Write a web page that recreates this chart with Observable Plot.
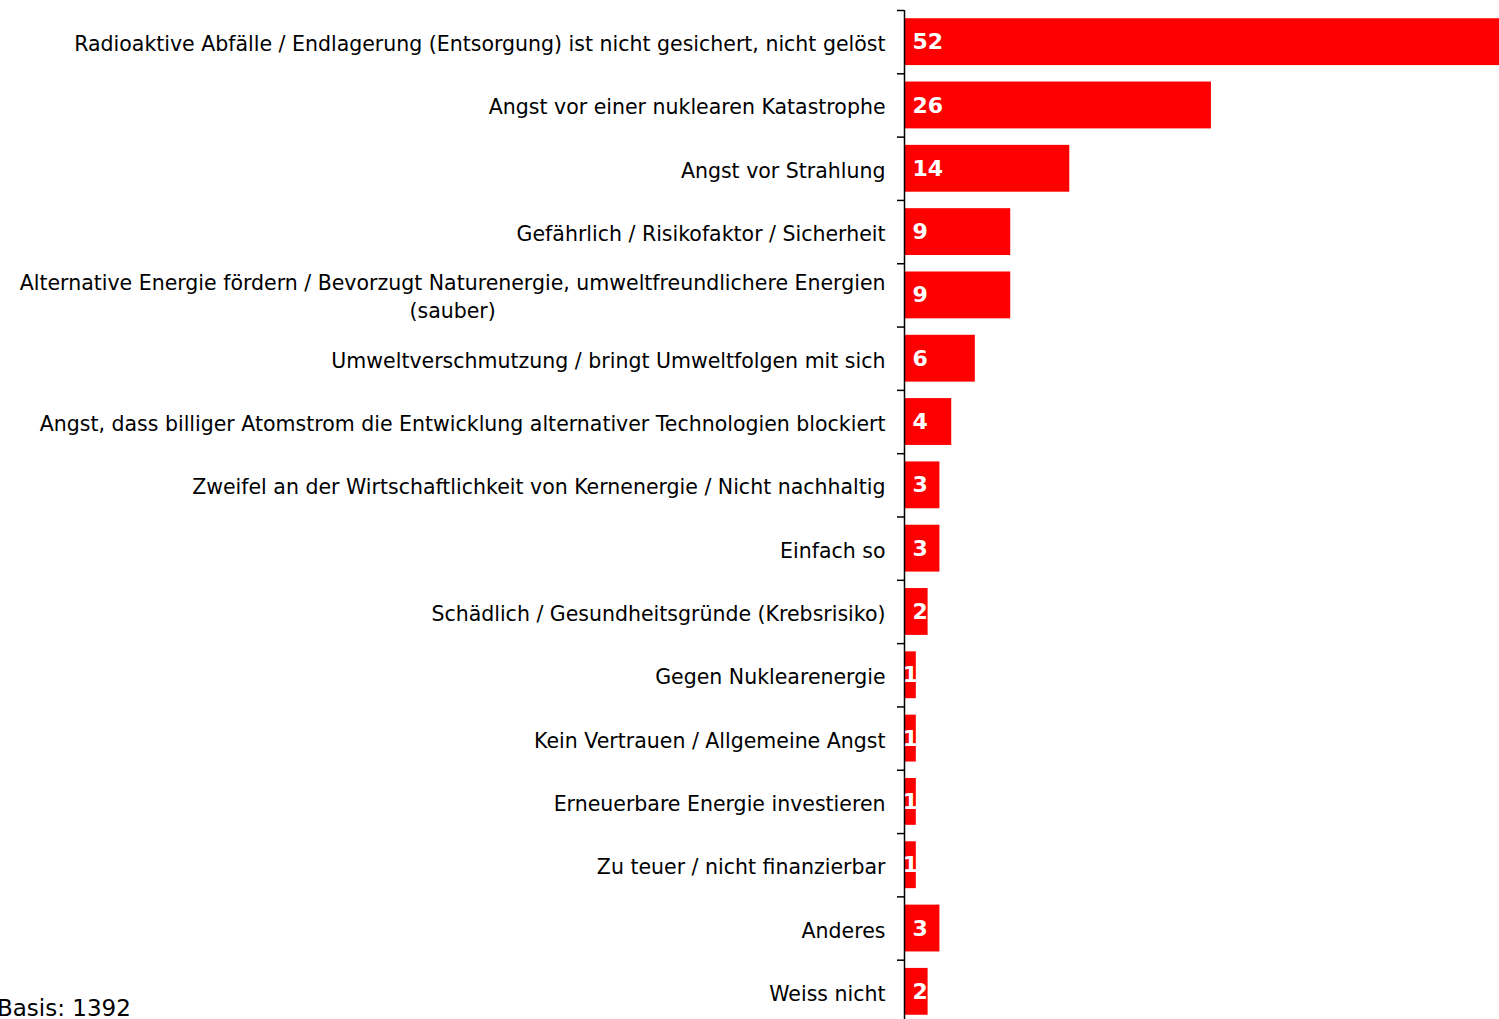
<!DOCTYPE html>
<html>
<head>
<meta charset="utf-8">
<script src="https://cdn.jsdelivr.net/npm/d3@7"></script>
<script src="https://cdn.jsdelivr.net/npm/@observablehq/plot@0.6"></script>
<style>
  html, body { margin: 0; padding: 0; background: #fff; overflow: hidden; }
  #wrap { position: relative; width: 1499px; height: 1019px; }
  #caption { position: absolute; left: -3px; top: 997px; font-family: "DejaVu Sans", sans-serif; font-size: 23px; color: #000; line-height: 1; white-space: nowrap; }
</style>
</head>
<body>
<div id="wrap"><div id="chart"></div><div id="caption">Basis: 1392</div></div>
<script>
const categories = [
  "Radioaktive Abfälle / Endlagerung (Entsorgung) ist nicht gesichert, nicht gelöst",
  "Angst vor einer nuklearen Katastrophe",
  "Angst vor Strahlung",
  "Gefährlich / Risikofaktor / Sicherheit",
  "Alternative Energie fördern / Bevorzugt Naturenergie, umweltfreundlichere Energien\n(sauber)",
  "Umweltverschmutzung / bringt Umweltfolgen mit sich",
  "Angst, dass billiger Atomstrom die Entwicklung alternativer Technologien blockiert",
  "Zweifel an der Wirtschaftlichkeit von Kernenergie / Nicht nachhaltig",
  "Einfach so",
  "Schädlich / Gesundheitsgründe (Krebsrisiko)",
  "Gegen Nuklearenergie",
  "Kein Vertrauen / Allgemeine Angst",
  "Erneuerbare Energie investieren",
  "Zu teuer / nicht finanzierbar",
  "Anderes",
  "Weiss nicht"
];
const values = [52, 26, 14, 9, 9, 6, 4, 3, 3, 2, 1, 1, 1, 1, 3, 2];

const data = categories.map((c, i) => ({cat: c, value: values[i]}));

const W = 1499, H = 1029, mTop = 10, mBottom = 6;
const step = (H - mTop - mBottom) / categories.length;
const font = '"DejaVu Sans", sans-serif';

const chart = Plot.plot({
  width: W,
  height: H,
  marginLeft: 904,
  marginRight: 0,
  marginTop: mTop,
  marginBottom: mBottom,
  style: {fontFamily: font, background: "#fff", color: "#000"},
  x: {domain: [0, 50.4], axis: null},
  y: {domain: categories, paddingInner: 0.26, paddingOuter: 0.13, round: false, axis: null, label: null},
  marks: [
    Plot.barX(data, {x: "value", y: "cat", fill: "#ff0000"}),
    Plot.ruleX([0], {stroke: "#000", strokeWidth: 1.5}),
    Plot.axisY({anchor: "left", tickSize: 7, tickFormat: () => "", label: null, dy: -step / 2, stroke: "#000", strokeWidth: 1.5}),
    Plot.text(data, {y: "cat", text: "cat", frameAnchor: "left", textAnchor: "end", dx: -19, fontSize: 20.5, lineHeight: 1.37, fill: "#000"}),
    Plot.text(data.filter(d => d.value > 1), {x: 0, y: "cat", text: d => String(d.value), dx: 8, textAnchor: "start", fill: "#fff", fontWeight: "bold", fontSize: 22}),
    Plot.text(data.filter(d => d.value <= 1), {x: d => d.value / 2, y: "cat", text: d => String(d.value), textAnchor: "middle", fill: "#fff", fontWeight: "bold", fontSize: 22})
  ]
});
document.getElementById("chart").appendChild(chart);

// center the wrapped second line under the first (as in the original)
chart.querySelectorAll("text").forEach(t => {
  const spans = t.querySelectorAll("tspan");
  if (spans.length === 2) {
    const L = spans[0].getComputedTextLength();
    t.setAttribute("text-anchor", "middle");
    spans.forEach(s => s.setAttribute("x", -L / 2));
  }
});
</script>
</body>
</html>
